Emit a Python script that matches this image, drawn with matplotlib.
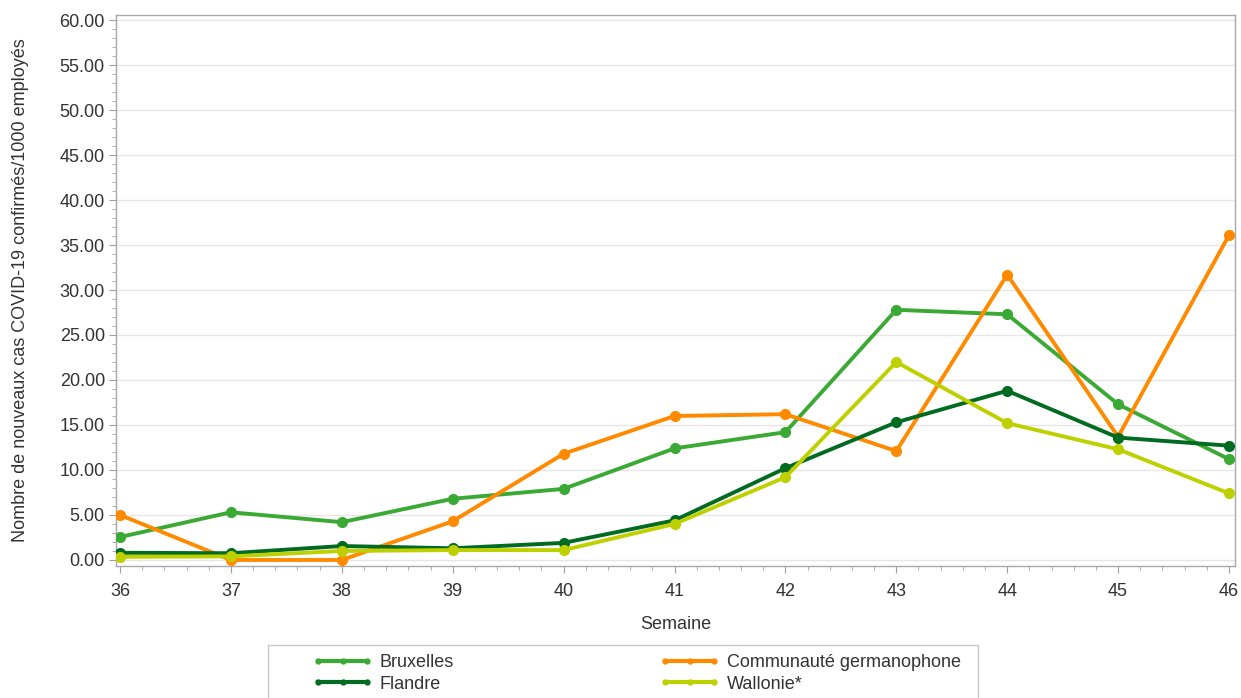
import numpy as np
import matplotlib
matplotlib.use('Agg')
import matplotlib.pyplot as plt
from matplotlib.lines import Line2D
from matplotlib.patches import Rectangle
from matplotlib.ticker import MultipleLocator, FormatStrFormatter

plt.rcParams['font.family'] = ['Liberation Sans', 'DejaVu Sans']

weeks = [36, 37, 38, 39, 40, 41, 42, 43, 44, 45, 46]
bruxelles = [2.55, 5.3, 4.2, 6.8, 7.9, 12.4, 14.2, 27.8, 27.3, 17.3, 11.2]
germanophone = [5.0, 0.0, 0.0, 4.3, 11.8, 16.0, 16.2, 12.1, 31.7, 13.7, 36.1]
flandre = [0.8, 0.75, 1.55, 1.3, 1.9, 4.4, 10.2, 15.3, 18.8, 13.6, 12.7]
wallonie = [0.35, 0.4, 1.0, 1.1, 1.1, 4.0, 9.2, 22.0, 15.2, 12.3, 7.4]

colors = {'Bruxelles': '#3aaa35', 'Flandre': '#006b21',
          'Communauté germanophone': '#ff8a00', 'Wallonie*': '#bfd000'}
data = {'Bruxelles': bruxelles, 'Communauté germanophone': germanophone,
        'Flandre': flandre, 'Wallonie*': wallonie}

W, H = 1241, 698
fig = plt.figure(figsize=(W/100, H/100), dpi=100)
ax = fig.add_axes([116/W, 1-566/H, (1235-116)/W, (566-15)/H])

for name, vals in data.items():
    ax.plot(weeks, vals, color=colors[name], lw=2.8, marker='o', ms=7,
            solid_joinstyle='round', zorder=3)

ax.set_xlim(35.964, 46.054)
ax.set_ylim(-0.67, 60.56)
ax.xaxis.set_major_locator(MultipleLocator(1))
ax.xaxis.set_minor_locator(MultipleLocator(0.2))
ax.yaxis.set_major_locator(MultipleLocator(5))
ax.yaxis.set_minor_locator(MultipleLocator(1))
ax.yaxis.set_major_formatter(FormatStrFormatter('%.2f'))

ax.grid(axis='y', which='major', color='#e6e6e6', lw=1.0, zorder=0)
for s in ax.spines.values():
    s.set_color('#a8a8a8')
    s.set_linewidth(1.0)
ax.tick_params(which='major', length=5, color='#a0a0a0', labelsize=13,
               labelcolor='#333333')
ax.tick_params(axis='x', which='major', pad=7)
ax.tick_params(axis='y', which='major', pad=3)
ax.tick_params(which='minor', length=3, color='#a0a0a0')

ax.set_xlabel('Semaine', fontsize=13, color='#333333')
ax.set_ylabel('Nombre de nouveaux cas COVID-19 confirmés/1000 employés',
              fontsize=13, color='#333333')
ax.xaxis.set_label_coords(0.5, (566-616)/551)
ax.yaxis.set_label_coords((29-116)/1119, 0.5)

# legend box (bottom is cut off by the image edge)
fig.add_artist(Rectangle((268/W, -0.05), (978-268)/W, 0.05 + 1-645/H,
                         transform=fig.transFigure, facecolor='white',
                         edgecolor='#c8c8c8', lw=1.0))

def legend_col(names, x):
    hs = [Line2D([0], [0], color=colors[n], lw=3, marker='o', ms=3.5)
          for n in names]
    lg = fig.legend(hs, names, loc='upper left',
                    bbox_to_anchor=(x/W, 1-654/H), numpoints=3,
                    handlelength=3.3, handletextpad=0.4, fontsize=13,
                    labelspacing=0.25, frameon=False, borderpad=0,
                    borderaxespad=0)
    for t in lg.get_texts():
        t.set_color('#333333')
    return lg

legend_col(['Bruxelles', 'Flandre'], 313)
legend_col(['Communauté germanophone', 'Wallonie*'], 660)

fig.savefig('out.png', dpi=100)
